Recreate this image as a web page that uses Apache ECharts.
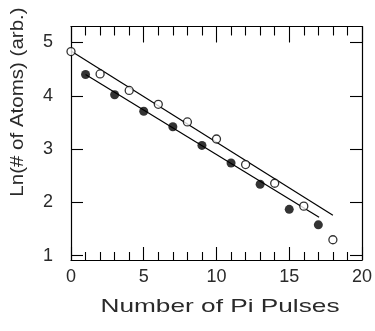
<!DOCTYPE html>
<html>
<head>
<meta charset="utf-8">
<script src="https://cdn.jsdelivr.net/npm/echarts@6/dist/echarts.min.js"></script>
<style>
  html, body { margin: 0; padding: 0; background: #fff; }
  #chart { width: 375px; height: 331px; }
</style>
</head>
<body>
<div id="chart"></div>
<script>
// Measured ln(atom number) after successive pi pulses
const openPulses = [0, 2, 4, 6, 8, 10, 12, 14, 16, 18];
const openLnAtoms = [4.83, 4.41, 4.10, 3.84, 3.51, 3.19, 2.71, 2.36, 1.93, 1.30];
const filledPulses = [1, 3, 5, 7, 9, 11, 13, 15, 17];
const filledLnAtoms = [4.40, 4.02, 3.71, 3.42, 3.07, 2.74, 2.34, 1.87, 1.58];

// Straight-line fits through each data set (endpoints)
const openFitX = [0, 18];
const openFitY = [4.84, 1.76];
const filledFitX = [1, 17.05];
const filledFitY = [4.40, 1.72];

// Axis tick values
const xTicks = [0, 5, 10, 15, 20];
const yTicks = [1, 2, 3, 4, 5];

const zip = (xs, ys) => xs.map((x, i) => [x, ys[i]]);

const ink = '#000';
const textInk = '#2a2a2a';
const font = 'Liberation Sans';

const chart = echarts.init(document.getElementById('chart'), null, { renderer: 'canvas' });

const xAxisBase = {
  type: 'value', min: 0, max: 20, interval: 5,
  axisLine: { show: true, onZero: false, lineStyle: { color: ink, width: 1.2 } },
  splitLine: { show: false },
  minorTick: { show: true, splitNumber: 5, length: 8, lineStyle: { color: ink, width: 1.1 } },
  minorSplitLine: { show: false }
};

const yAxisBase = {
  type: 'value', min: 0.92, max: 5.3,
  axisLine: { show: true, onZero: false, lineStyle: { color: ink, width: 1.2 } },
  splitLine: { show: false },
  axisTick: { show: true, inside: true, length: 12, customValues: yTicks, lineStyle: { color: ink, width: 1.1 } }
};

chart.setOption({
  animation: false,
  backgroundColor: '#fff',
  grid: { left: 71, right: 13, top: 26.5, bottom: 71, containLabel: false },
  xAxis: [
    Object.assign({}, xAxisBase, {
      position: 'bottom',
      axisTick: { show: true, inside: true, length: 13, lineStyle: { color: ink, width: 1.1 } },
      axisLabel: { show: true, margin: 8, color: textInk, fontFamily: font, fontSize: 18,
        customValues: xTicks }
    }),
    Object.assign({}, xAxisBase, {
      position: 'top',
      axisTick: { show: true, inside: true, length: 16, lineStyle: { color: ink, width: 1.1 } },
      minorTick: { show: true, splitNumber: 5, length: 9, lineStyle: { color: ink, width: 1.1 } },
      axisLabel: { show: false }
    })
  ],
  yAxis: [
    Object.assign({}, yAxisBase, {
      position: 'left',
      axisLabel: { show: true, margin: 18, color: textInk, fontFamily: font, fontSize: 18,
        customValues: yTicks }
    }),
    Object.assign({}, yAxisBase, {
      position: 'right',
      axisLabel: { show: false }
    })
  ],
  graphic: [
    {
      // x-axis title, centred under the plot
      type: 'text', x: 220, y: 307, scaleX: 1.38,
      style: { text: 'Number of Pi Pulses', font: '19px "Liberation Sans"', fill: textInk,
        textAlign: 'center', textVerticalAlign: 'middle' }
    },
    {
      // y-axis title, reading bottom to top
      type: 'text', x: 18, y: 102, rotation: Math.PI / 2, scaleX: 1.08,
      style: { text: 'Ln(# of Atoms) (arb.)', font: '19px "Liberation Sans"', fill: textInk,
        textAlign: 'center', textVerticalAlign: 'middle' }
    }
  ],
  series: [
    {
      type: 'line', data: zip(openFitX, openFitY), showSymbol: false, silent: true,
      lineStyle: { color: ink, width: 1.2 }
    },
    {
      type: 'line', data: zip(filledFitX, filledFitY), showSymbol: false, silent: true,
      lineStyle: { color: ink, width: 1.2 }
    },
    {
      type: 'scatter', data: zip(openPulses, openLnAtoms), symbol: 'circle', symbolSize: 8,
      itemStyle: { color: '#fff', borderColor: ink, borderWidth: 1.3 }, z: 3
    },
    {
      type: 'scatter', data: zip(filledPulses, filledLnAtoms), symbol: 'circle', symbolSize: 9,
      itemStyle: { color: ink }, z: 3
    }
  ]
});
</script>
</body>
</html>
